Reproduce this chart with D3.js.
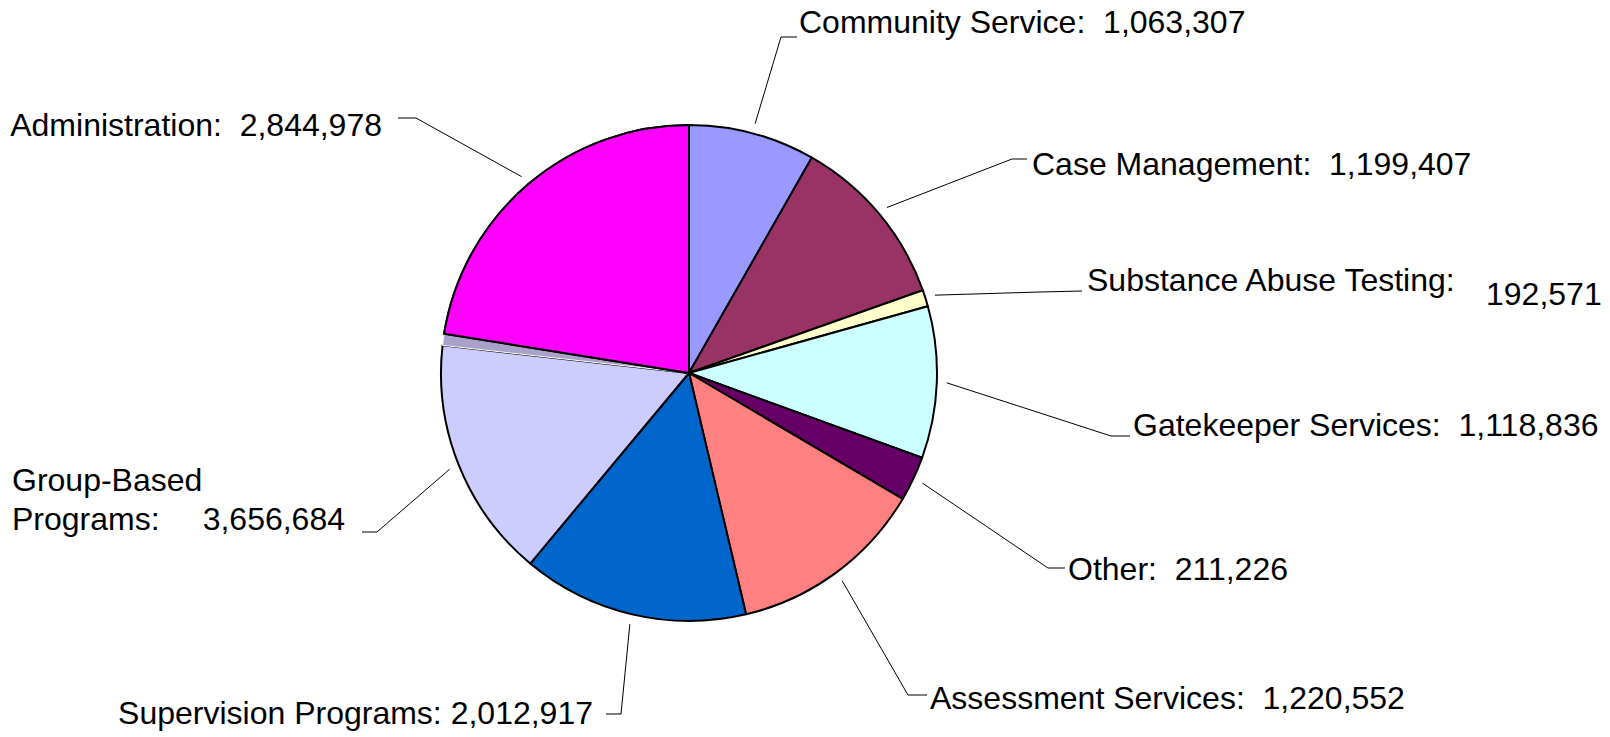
<!DOCTYPE html>
<html>
<head>
<meta charset="utf-8">
<script src="https://cdn.jsdelivr.net/npm/d3@7.9.0/dist/d3.min.js"></script>
<style>
  html, body { margin: 0; padding: 0; background: #fff; }
  svg text { font-family: "Liberation Sans", Arial, sans-serif; fill: #000; }
</style>
</head>
<body>
<svg id="chart" width="1610" height="737"></svg>
<script>
// categories, clockwise from 12 o'clock
const categories = [
  'Community Service', 'Case Management', 'Substance Abuse Testing',
  'Gatekeeper Services', 'Other', 'Assessment Services',
  'Supervision Programs', 'Group-Based Programs', '', 'Administration'
];
// amounts printed in the labels
const amounts = [1063307, 1199407, 192571, 1118836, 211226, 1220552, 2012917, 3656684, null, 2844978];
// share of the circle each slice takes in the picture (percent)
const shares = [8.25, 11.33, 1.08, 9.89, 2.92, 12.83, 14.75, 15.72, 0.75, 22.47];
const colours = ['#9999FF', '#993366', '#FFFFCC', '#CCFFFF', '#660066', '#FF8080', '#0066CC', '#CCCCFF', '#A9A1C9', '#FF00FF'];

// label layout: elbow point, end of leader, text position
const labelLayout = [
  { elbow: [781, 37], end: [797, 37], text: [799, 33], anchor: 'start' },
  { elbow: [1012, 159], end: [1027, 159], text: [1032, 175], anchor: 'start' },
  { elbow: [1040, 292], end: [1082, 291], text: [1087, 291], anchor: 'start', value: [1486, 305] },
  { elbow: [1111, 436], end: [1130, 436], text: [1133, 436], anchor: 'start' },
  { elbow: [1048, 568], end: [1065, 568], text: [1068, 580], anchor: 'start' },
  { elbow: [908, 695], end: [927, 695], text: [930, 709], anchor: 'start' },
  { elbow: [621, 714], end: [606, 714], text: [593, 724], anchor: 'end' },
  { elbow: [377, 532], end: [362, 532], text: [12, 491], anchor: 'start', lines: true, value: [345, 530] },
  null,
  { elbow: [416, 118], end: [398, 118], text: [382, 136], anchor: 'end' }
];

const cx = 689, cy = 373, r = 248;
const fmt = d3.format(',');

const svg = d3.select('#chart');
const g = svg.append('g').attr('transform', `translate(${cx},${cy})`);

const pie = d3.pie().sort(null).value((d) => d);
const arcs = pie(shares);
const arc = d3.arc().innerRadius(0).outerRadius(r);

// slices (grey sliver drawn with a white edge, no black outline)
arcs.forEach((a, i) => {
  g.append('path')
    .attr('d', arc(a))
    .attr('fill', colours[i])
    .attr('stroke', categories[i] === '' ? '#fff' : '#000')
    .attr('stroke-width', categories[i] === '' ? 1 : 2)
    .attr('stroke-linejoin', 'round');
});
// redraw the Administration slice on top so its outline shows over the sliver
g.append('path')
  .attr('d', arc(arcs[9]))
  .attr('fill', colours[9])
  .attr('stroke', '#000')
  .attr('stroke-width', 2);

// leader lines and labels
arcs.forEach((a, i) => {
  const lay = labelLayout[i];
  if (!lay) return;
  const mid = (a.startAngle + a.endAngle) / 2;
  const sx = cx + (r + 10) * Math.sin(mid);
  const sy = cy - (r + 10) * Math.cos(mid);
  svg.append('polyline')
    .attr('points', [[sx, sy], lay.elbow, lay.end].map((p) => p.join(',')).join(' '))
    .attr('fill', 'none')
    .attr('stroke', '#000')
    .attr('stroke-width', 1);

  if (lay.lines) {
    // two-line label with the amount on the second line
    const t = svg.append('text').attr('font-size', 32);
    t.append('tspan').attr('x', lay.text[0]).attr('y', lay.text[1]).text('Group-Based');
    t.append('tspan').attr('x', lay.text[0]).attr('y', lay.value[1]).text('Programs:');
    svg.append('text').attr('font-size', 32)
      .attr('x', lay.value[0]).attr('y', lay.value[1])
      .attr('text-anchor', 'end')
      .text(fmt(amounts[i]));
  } else if (lay.value) {
    svg.append('text').attr('font-size', 32)
      .attr('x', lay.text[0]).attr('y', lay.text[1])
      .text(categories[i] + ':');
    svg.append('text').attr('font-size', 32)
      .attr('x', lay.value[0]).attr('y', lay.value[1])
      .text(fmt(amounts[i]));
  } else {
    const sep = categories[i] === 'Supervision Programs' ? ': ' : ':\u00a0\u00a0';
    svg.append('text').attr('font-size', 32)
      .attr('x', lay.text[0]).attr('y', lay.text[1])
      .attr('text-anchor', lay.anchor)
      .text(categories[i] + sep + fmt(amounts[i]));
  }
});
</script>
</body>
</html>
